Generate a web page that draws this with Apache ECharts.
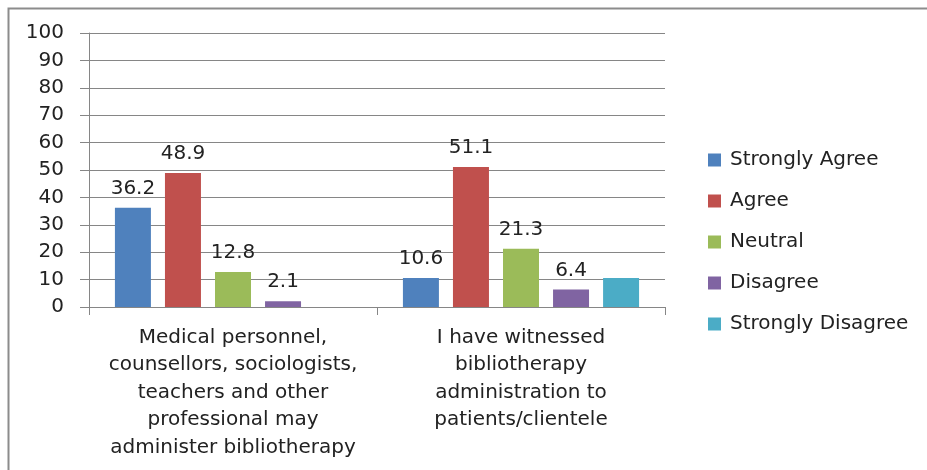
<!DOCTYPE html>
<html>
<head>
<meta charset="utf-8">
<script src="https://cdn.jsdelivr.net/npm/echarts@6/dist/echarts.min.js"></script>
<style>
  html, body { margin: 0; padding: 0; background: #fff; }
  #chart { width: 927px; height: 470px; }
</style>
</head>
<body>
<div id="chart"></div>
<script>
// data
var categories = [
  "Medical personnel,\ncounsellors, sociologists,\nteachers and other\nprofessional may\nadminister bibliotherapy",
  "I have witnessed\nbibliotherapy\nadministration to\npatients/clientele"
];
var seriesNames = ["Strongly Agree", "Agree", "Neutral", "Disagree", "Strongly Disagree"];
var stronglyAgree = [36.2, 10.6];
var agree = [48.9, 51.1];
var neutral = [12.8, 21.3];
var disagree = [2.1, 6.4];
var stronglyDisagree = [null, 10.6];
var colors = ["#4F81BD", "#C0504D", "#9BBB59", "#8064A2", "#4BACC6"];

var font = "DejaVu Sans";
var chart = echarts.init(document.getElementById("chart"));

function bar(name, data, color, showLabel) {
  return {
    name: name,
    type: "bar",
    data: data,
    barWidth: 36,
    barGap: "39%",
    itemStyle: { color: color },
    label: {
      show: showLabel,
      position: "top",
      distance: 9,
      color: "#222",
      fontFamily: font,
      fontSize: 20
    }
  };
}

var option = {
  animation: false,
  graphic: [{
    type: "rect",
    shape: { x: 8.5, y: 8.5, width: 960, height: 500 },
    style: { fill: "none", stroke: "#8c8c8c", lineWidth: 2 }
  }],
  grid: { left: 89, right: 262, top: 33, bottom: 163 },
  legend: {
    orient: "vertical",
    left: 703,
    top: 145,
    itemWidth: 13,
    itemHeight: 13,
    itemGap: 21,
    icon: "rect",
    textStyle: { fontFamily: font, fontSize: 20, color: "#222", padding: [0, 0, 0, 4] },
    data: seriesNames
  },
  xAxis: {
    type: "category",
    data: categories,
    axisLine: { lineStyle: { color: "#868686", width: 1 } },
    axisTick: { show: true, length: 8, lineStyle: { color: "#868686" } },
    axisLabel: {
      color: "#222",
      fontFamily: font,
      fontSize: 20,
      lineHeight: 27.5,
      margin: 17,
      interval: 0
    }
  },
  yAxis: {
    type: "value",
    min: 0,
    max: 100,
    interval: 10,
    axisLine: { show: true, lineStyle: { color: "#868686" } },
    axisTick: { show: true, length: 9, lineStyle: { color: "#868686" } },
    splitLine: { lineStyle: { color: "#868686", width: 1 } },
    axisLabel: {
      color: "#222",
      fontFamily: font,
      fontSize: 20,
      margin: 25
    }
  },
  series: [
    bar(seriesNames[0], stronglyAgree, colors[0], true),
    bar(seriesNames[1], agree, colors[1], true),
    bar(seriesNames[2], neutral, colors[2], true),
    bar(seriesNames[3], disagree, colors[3], true),
    bar(seriesNames[4], stronglyDisagree, colors[4], false)
  ]
};
chart.setOption(option);
</script>
</body>
</html>
